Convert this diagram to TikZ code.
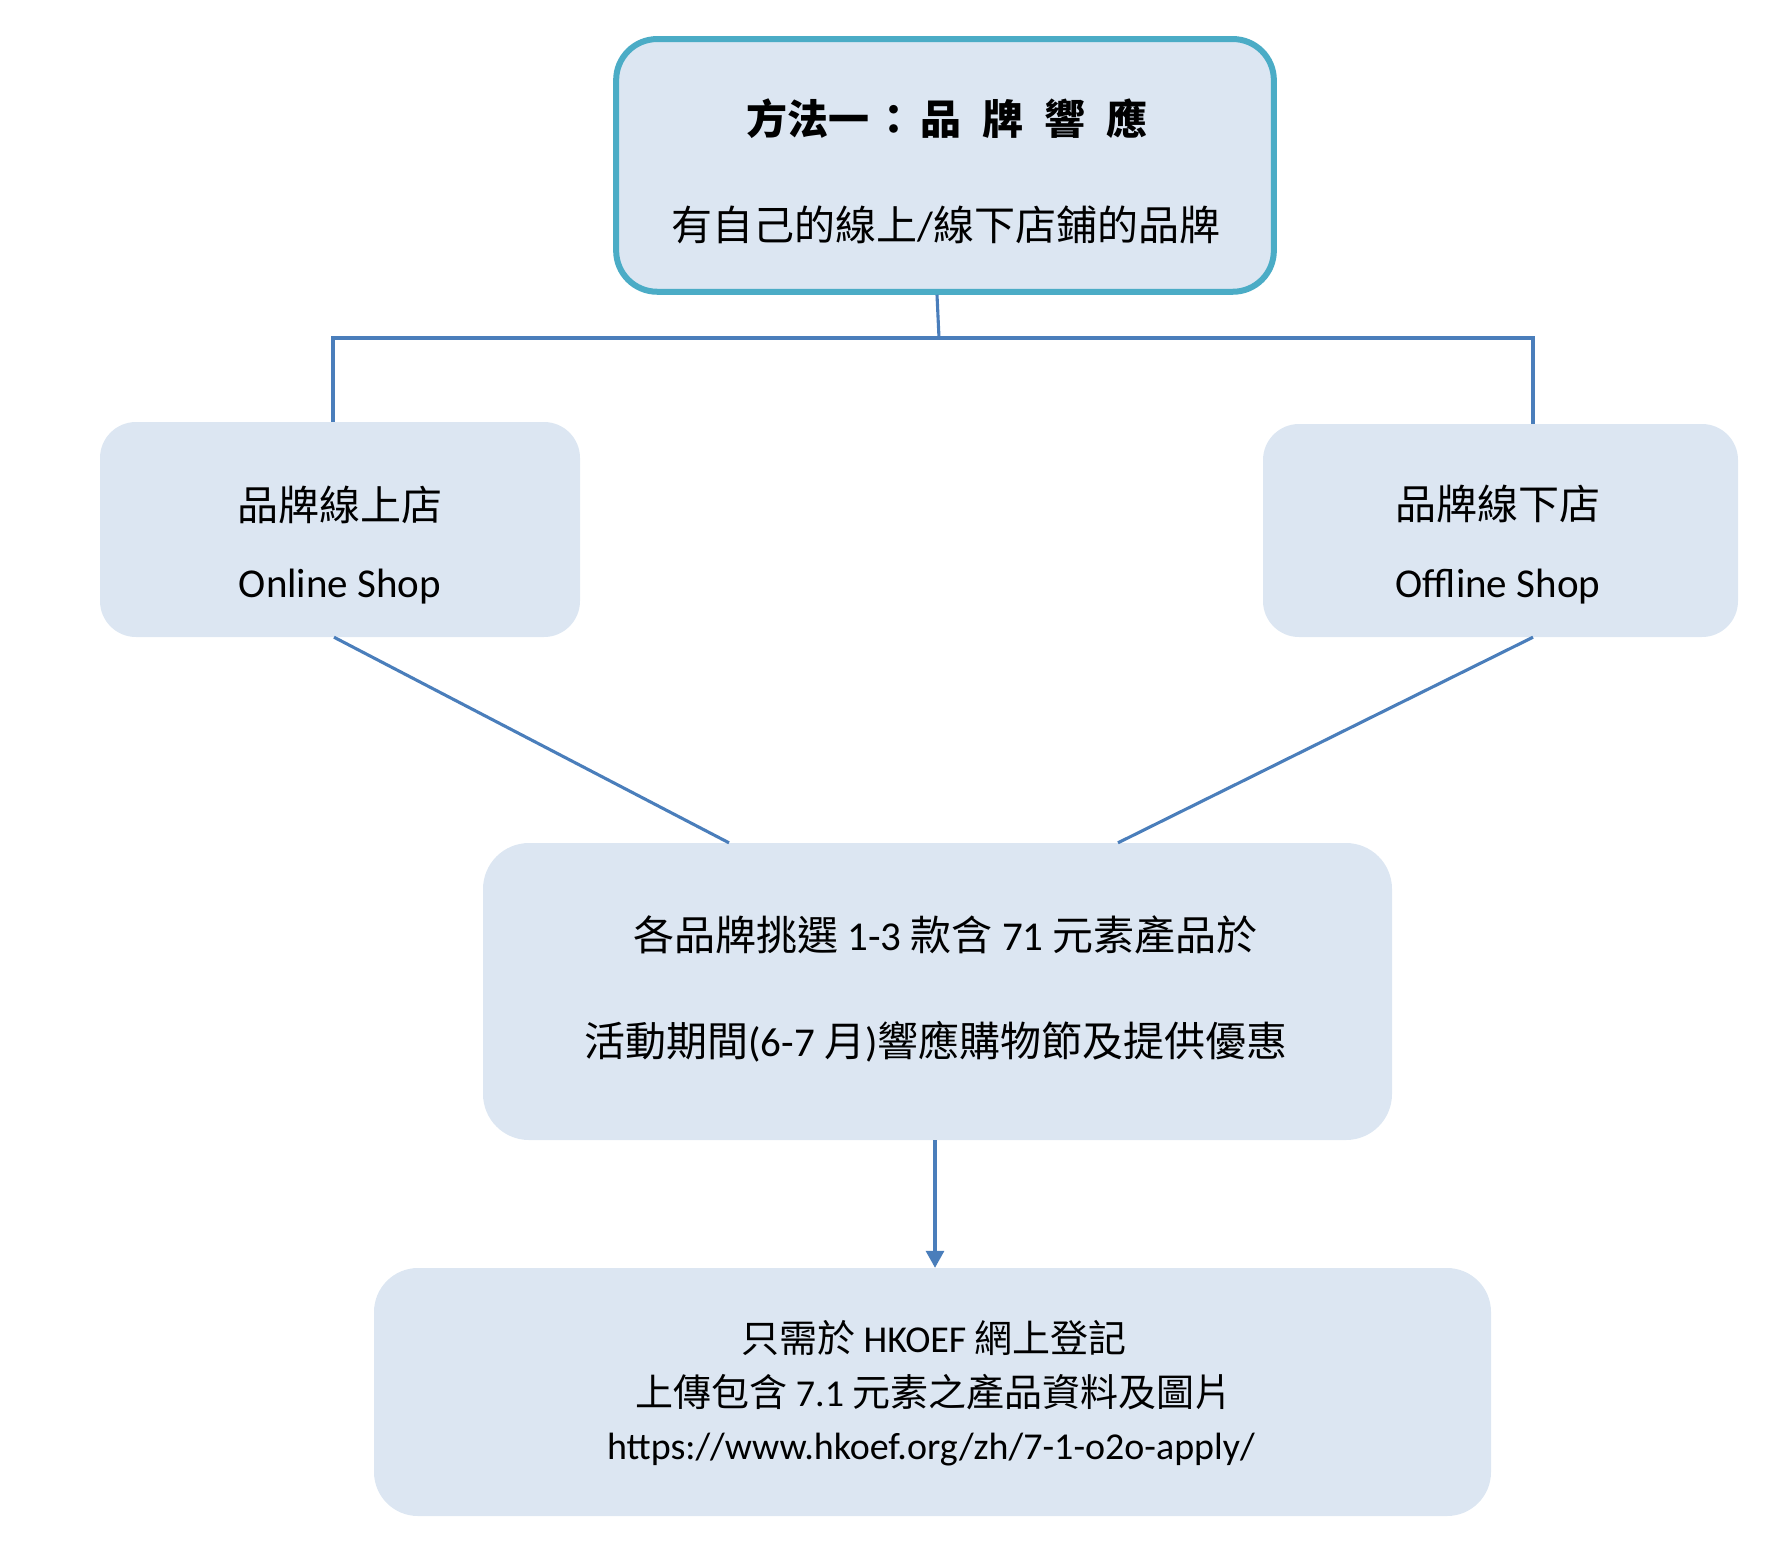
\documentclass[tikz,border=0pt]{standalone}
\usepackage{fontspec}
\setmainfont{Carlito}
\newfontfamily\cjk{Noto Sans CJK TC}
\usetikzlibrary{arrows.meta}
\definecolor{boxfill}{HTML}{DCE6F2}
\definecolor{topline}{HTML}{4BACC6}
\definecolor{linec}{HTML}{4A7EBB}
\newcommand\myfs{\fontsize{41}{49}\selectfont}
\newcommand\mysmfs{\fontsize{38}{46}\selectfont}
\begin{document}
\begin{tikzpicture}[x=1pt,y=-1pt,
  box/.style={rectangle, rounded corners=#1, fill=boxfill, inner sep=0pt},
  conn/.style={draw=linec, line width=3.1pt},
  txt/.style={inner sep=0pt, anchor=base, font=\myfs, text=black},
  smtxt/.style={txt, font=\mysmfs}]
\useasboundingbox (0,0) rectangle (1786,1564);
% boxes
\node[box=41pt, draw=topline, line width=6pt, minimum width=657.7pt, minimum height=252.7pt] (top) at (945,165.4) {};
\node[box=36pt, minimum width=480pt, minimum height=215pt] (left) at (340,529.5) {};
\node[box=36pt, minimum width=475pt, minimum height=213pt] (right) at (1500.5,530.5) {};
\node[box=46pt, minimum width=909pt, minimum height=297pt] (mid) at (937.5,991.5) {};
\node[box=44pt, minimum width=1117pt, minimum height=248pt] (bot) at (932.5,1392) {};
% texts
\node[txt] (t1) at (947,134) {\cjk\bfseries 方法一\hspace{5pt}：\hspace{6pt}品\hspace{21pt}牌\hspace{21pt}響\hspace{21pt}應};
\node[txt] (t2) at (946,240) {{\cjk 有自己的線上}/{\cjk 線下店鋪的品牌}};
\node[txt] (l1) at (340,520) {\cjk 品牌線上店};
\node[txt] (l2) at (340,597) {Online Shop};
\node[txt] (r1) at (1498,519) {\cjk 品牌線下店};
\node[txt] (r2) at (1498,597) {Offline Shop};
\node[txt] (m1) at (945.5,950) {{\cjk 各品牌挑選} 1-3 {\cjk 款含} 71 {\cjk 元素產品於}};
\node[txt] (m2) at (936,1056) {{\cjk 活動期間}(6-7 {\cjk 月})\cjk 響應購物節及提供優惠};
\node[smtxt] (b1) at (934,1352) {{\cjk 只需於} HKOEF {\cjk 網上登記}};
\node[smtxt] (b2) at (934,1406) {{\cjk 上傳包含} 7.1 {\cjk 元素之產品資料及圖片}};
\node[smtxt] (b3) at (931,1459) {https://www.hkoef.org/zh/7-1-o2o-apply/};
% connectors
\coordinate (j) at (939,338);
\coordinate (hl) at (333,338);
\coordinate (hr) at (1533,338);
\draw[conn] ([xshift=-8pt]top.south) -- (j);
\draw[conn] (hl |- left.north) -- (hl) -- (hr) -- (hr |- right.north);
\draw[conn] ([xshift=-6pt]left.south) -- ([xshift=-208.5pt]mid.north);
\draw[conn] ([xshift=32.5pt]right.south) -- ([xshift=180.5pt]mid.north);
\draw[conn, -{Triangle[width=18pt,length=17pt]}] ([xshift=-2.5pt]mid.south) -- ([xshift=-2.5pt]mid.south |- bot.north);
\end{tikzpicture}
\end{document}
